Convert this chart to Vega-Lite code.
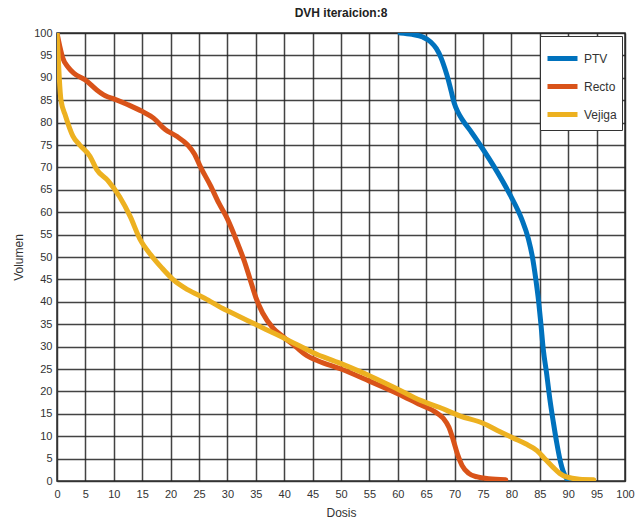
{
  "$schema": "https://vega.github.io/schema/vega-lite/v6.json",
  "autosize": "none",
  "width": 568,
  "height": 448,
  "padding": {"left": 57, "top": 33, "right": 12, "bottom": 46},
  "background": "white",
  "title": {"text": "DVH iteraicion:8", "font": "Liberation Sans", "fontSize": 12, "fontWeight": "bold", "color": "#222", "offset": 7},
  "config": {
    "view": {"stroke": "#333", "strokeWidth": 1.5},
    "axis": {"labelFont": "Liberation Sans", "titleFont": "Liberation Sans", "labelFontSize": 11, "titleFontSize": 12, "titleFontWeight": "normal", "labelColor": "#333", "titleColor": "#333", "gridColor": "#222", "gridOpacity": 0.85, "gridWidth": 1.5, "domainColor": "#333", "tickColor": "#333"}
  },
  "data": {"values": [
    {"s":"PTV","x":60.4,"y":100},{"s":"PTV","x":62.5,"y":99.7},{"s":"PTV","x":64.4,"y":99.1},{"s":"PTV","x":65.8,"y":98},{"s":"PTV","x":66.8,"y":96.5},{"s":"PTV","x":67.6,"y":94.5},{"s":"PTV","x":68.3,"y":92},{"s":"PTV","x":68.9,"y":89.5},{"s":"PTV","x":69.4,"y":87},{"s":"PTV","x":69.9,"y":84.5},{"s":"PTV","x":70.6,"y":82.3},{"s":"PTV","x":71.5,"y":80.4},{"s":"PTV","x":73,"y":77.8},{"s":"PTV","x":74.5,"y":75},{"s":"PTV","x":77.5,"y":69},{"s":"PTV","x":79.8,"y":63.8},{"s":"PTV","x":81.8,"y":58.5},{"s":"PTV","x":83,"y":54},{"s":"PTV","x":83.7,"y":50},{"s":"PTV","x":84.3,"y":45},{"s":"PTV","x":84.8,"y":40},{"s":"PTV","x":85.2,"y":35},{"s":"PTV","x":85.6,"y":29.5},{"s":"PTV","x":86.2,"y":24},{"s":"PTV","x":86.8,"y":18},{"s":"PTV","x":87.4,"y":13},{"s":"PTV","x":88,"y":8.4},{"s":"PTV","x":88.6,"y":4.5},{"s":"PTV","x":89.1,"y":2.2},{"s":"PTV","x":89.7,"y":0.6},{"s":"PTV","x":90.2,"y":0},
    {"s":"Recto","x":0,"y":100},{"s":"Recto","x":0.5,"y":97},{"s":"Recto","x":1,"y":94.5},{"s":"Recto","x":2,"y":92.3},{"s":"Recto","x":3,"y":91},{"s":"Recto","x":5,"y":89.5},{"s":"Recto","x":7,"y":87.3},{"s":"Recto","x":8.5,"y":86},{"s":"Recto","x":10,"y":85.3},{"s":"Recto","x":12.5,"y":84},{"s":"Recto","x":15,"y":82.5},{"s":"Recto","x":17,"y":81},{"s":"Recto","x":19,"y":78.5},{"s":"Recto","x":21,"y":77},{"s":"Recto","x":23,"y":75},{"s":"Recto","x":24.2,"y":73},{"s":"Recto","x":25.3,"y":70},{"s":"Recto","x":27,"y":66},{"s":"Recto","x":28.5,"y":62},{"s":"Recto","x":30,"y":58.5},{"s":"Recto","x":31.5,"y":54},{"s":"Recto","x":33,"y":49},{"s":"Recto","x":34,"y":45},{"s":"Recto","x":35,"y":41},{"s":"Recto","x":36.2,"y":37.5},{"s":"Recto","x":38,"y":34.2},{"s":"Recto","x":40,"y":32},{"s":"Recto","x":42,"y":30},{"s":"Recto","x":44,"y":28},{"s":"Recto","x":46,"y":26.8},{"s":"Recto","x":50,"y":25},{"s":"Recto","x":55,"y":22.3},{"s":"Recto","x":60,"y":19.5},{"s":"Recto","x":64,"y":17},{"s":"Recto","x":66.5,"y":15.5},{"s":"Recto","x":68,"y":14},{"s":"Recto","x":69,"y":12},{"s":"Recto","x":69.8,"y":9},{"s":"Recto","x":70.5,"y":6},{"s":"Recto","x":71.3,"y":3.5},{"s":"Recto","x":72.5,"y":1.7},{"s":"Recto","x":74,"y":0.9},{"s":"Recto","x":76,"y":0.5},{"s":"Recto","x":79,"y":0.3},
    {"s":"Vejiga","x":0,"y":100},{"s":"Vejiga","x":0.2,"y":95},{"s":"Vejiga","x":0.4,"y":90},{"s":"Vejiga","x":0.7,"y":85},{"s":"Vejiga","x":1.5,"y":81.5},{"s":"Vejiga","x":2.8,"y":77},{"s":"Vejiga","x":4,"y":75},{"s":"Vejiga","x":5.8,"y":72.5},{"s":"Vejiga","x":7,"y":69.5},{"s":"Vejiga","x":9,"y":67},{"s":"Vejiga","x":11,"y":63.5},{"s":"Vejiga","x":12.9,"y":59},{"s":"Vejiga","x":14.6,"y":54},{"s":"Vejiga","x":16.5,"y":50.5},{"s":"Vejiga","x":18.5,"y":47.5},{"s":"Vejiga","x":20.4,"y":45},{"s":"Vejiga","x":23,"y":42.7},{"s":"Vejiga","x":26,"y":40.8},{"s":"Vejiga","x":29.2,"y":38.5},{"s":"Vejiga","x":32,"y":36.8},{"s":"Vejiga","x":35.2,"y":34.8},{"s":"Vejiga","x":38.5,"y":32.8},{"s":"Vejiga","x":42.3,"y":30.4},{"s":"Vejiga","x":45,"y":28.7},{"s":"Vejiga","x":49.8,"y":26.3},{"s":"Vejiga","x":55,"y":23.5},{"s":"Vejiga","x":60,"y":20.5},{"s":"Vejiga","x":64,"y":18},{"s":"Vejiga","x":67.4,"y":16.4},{"s":"Vejiga","x":71,"y":14.5},{"s":"Vejiga","x":75,"y":12.9},{"s":"Vejiga","x":78,"y":11},{"s":"Vejiga","x":80.3,"y":9.6},{"s":"Vejiga","x":82.5,"y":8.3},{"s":"Vejiga","x":84.5,"y":6.8},{"s":"Vejiga","x":86,"y":4.8},{"s":"Vejiga","x":87.3,"y":3.1},{"s":"Vejiga","x":88.5,"y":1.7},{"s":"Vejiga","x":89.7,"y":0.9},{"s":"Vejiga","x":92,"y":0.4},{"s":"Vejiga","x":94.5,"y":0.3}
  ]},
  "mark": {"type": "line", "strokeWidth": 5, "strokeCap": "round", "strokeJoin": "round", "interpolate": "monotone", "clip": true},
  "encoding": {
    "x": {"field": "x", "type": "quantitative", "scale": {"domain": [0, 100], "nice": false}, "axis": {"title": "Dosis", "values": [0,5,10,15,20,25,30,35,40,45,50,55,60,65,70,75,80,85,90,95,100], "tickSize": 0, "labelPadding": 7, "titlePadding": 8, "labelFlush": false}},
    "y": {"field": "y", "type": "quantitative", "scale": {"domain": [0, 100], "nice": false}, "axis": {"title": "Volumen", "values": [0,5,10,15,20,25,30,35,40,45,50,55,60,65,70,75,80,85,90,95,100], "tickSize": 0, "labelPadding": 5, "titlePadding": 8}},
    "color": {"field": "s", "type": "nominal", "scale": {"domain": ["PTV", "Recto", "Vejiga"], "range": ["#0072BD", "#D95319", "#EDB120"]},
      "legend": {"title": null, "orient": "top-right", "offset": 3, "symbolType": "stroke", "symbolStrokeWidth": 5, "symbolSize": 900, "labelFont": "Liberation Sans", "labelFontSize": 12, "labelColor": "#333", "labelOffset": 4, "fillColor": "white", "strokeColor": "#333", "padding": 5, "rowPadding": -8}},
    "detail": {"field": "s"}
  }
}
